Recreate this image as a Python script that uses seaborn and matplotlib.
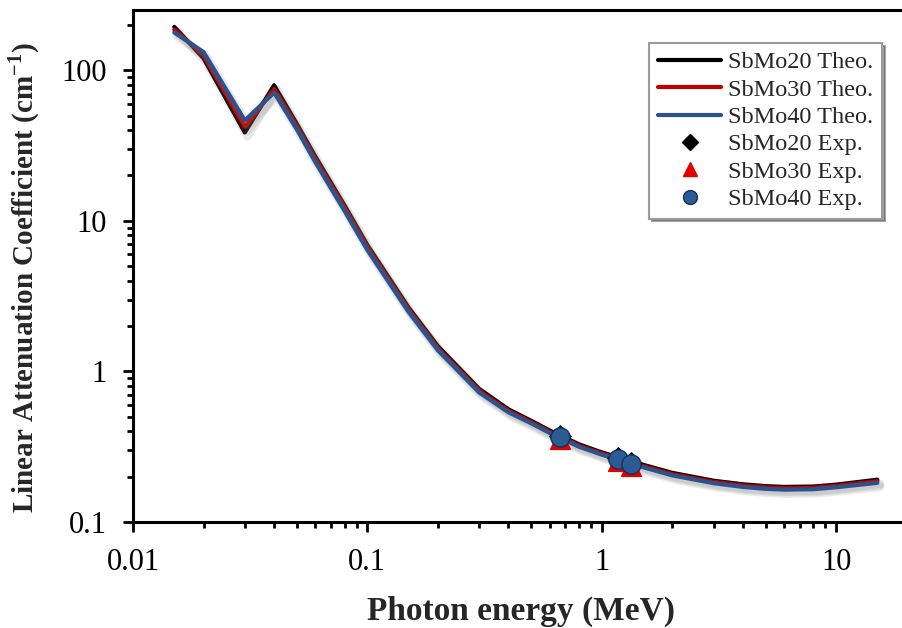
import numpy as np
import pandas as pd
import matplotlib
matplotlib.use("Agg")
import matplotlib.pyplot as plt
import matplotlib.patheffects as pe
from matplotlib.lines import Line2D
import seaborn as sns

# Photon energies (MeV) for the theoretical curves
energy = [0.015, 0.02, 0.03, 0.04, 0.05, 0.06, 0.08, 0.1, 0.15, 0.2, 0.3, 0.4,
          0.5, 0.6, 0.8, 1.0, 1.25, 1.5, 2.0, 3.0, 4.0, 5.0, 6.0, 8.0, 10.0, 15.0]

# Linear attenuation coefficients (cm^-1), theoretical
sbmo20_theo = [194, 120, 38.6, 79.4, 44.0, 26.7, 12.6, 6.9, 2.65, 1.47, 0.765, 0.56,
               0.47, 0.405, 0.328, 0.290, 0.262, 0.240, 0.212, 0.188, 0.178, 0.173,
               0.171, 0.172, 0.177, 0.191]
sbmo30_theo = [186, 126, 42.0, 75.0, 42.0, 25.6, 12.1, 6.65, 2.56, 1.42, 0.745, 0.548,
               0.462, 0.398, 0.322, 0.285, 0.257, 0.236, 0.208, 0.185, 0.175, 0.170,
               0.168, 0.169, 0.174, 0.187]
sbmo40_theo = [178, 132, 46.4, 71.0, 40.5, 24.5, 11.6, 6.4, 2.48, 1.38, 0.725, 0.535,
               0.452, 0.390, 0.316, 0.280, 0.252, 0.231, 0.204, 0.181, 0.171, 0.166,
               0.164, 0.165, 0.170, 0.182]

# Experimental points (Cs-137 and Co-60 lines)
exp_energy = [0.662, 1.173, 1.333]
sbmo20_exp = [0.372, 0.265, 0.245]
sbmo30_exp = [0.358, 0.256, 0.236]
sbmo40_exp = [0.369, 0.263, 0.243]

labels_theo = ["SbMo20 Theo.", "SbMo30 Theo.", "SbMo40 Theo."]
labels_exp = ["SbMo20 Exp.", "SbMo30 Exp.", "SbMo40 Exp."]
line_colors = ["#000000", "#C00000", "#2A5490"]

sns.set_theme(style="ticks")
plt.rcParams["font.family"] = ["Liberation Serif", "DejaVu Serif"]
plt.rcParams["mathtext.fontset"] = "custom"
plt.rcParams["mathtext.rm"] = "Liberation Serif"
plt.rcParams["mathtext.bf"] = "Liberation Serif:bold"

fig = plt.figure(figsize=(9.03, 6.28), dpi=100)
ax = fig.add_axes([133 / 903, (628 - 522) / 628, (903 - 133) / 903, (522 - 10) / 628])
ax.set_xscale("log")
ax.set_yscale("log")

theo = pd.DataFrame({"E": energy, "SbMo20": sbmo20_theo,
                     "SbMo30": sbmo30_theo, "SbMo40": sbmo40_theo})
shadow = [pe.SimpleLineShadow(offset=(2, -3), shadow_color="#909090", alpha=0.18,
                              linewidth=6), pe.Normal()]
for col, color in zip(["SbMo20", "SbMo30", "SbMo40"], line_colors):
    sns.lineplot(data=theo, x="E", y=col, ax=ax, color=color, linewidth=3.0,
                 legend=False)
    ax.lines[-1].set_path_effects(shadow)

expd = pd.DataFrame({"E": exp_energy, "SbMo20": sbmo20_exp,
                     "SbMo30": sbmo30_exp, "SbMo40": sbmo40_exp})
sns.scatterplot(data=expd, x="E", y="SbMo20", ax=ax, marker="D", s=120,
                color="black", edgecolor="black", zorder=5, legend=False)
sns.scatterplot(data=expd, x="E", y="SbMo30", ax=ax, marker="^", s=200,
                color="#E00000", edgecolor="#E00000", zorder=6, legend=False)
sns.scatterplot(data=expd, x="E", y="SbMo40", ax=ax, marker="o", s=190,
                color="#2B5A94", edgecolor="#17325A", linewidth=1.0, zorder=7,
                legend=False)

ax.set_xlim(0.01, 19.3)
ax.set_ylim(0.1, 251)
ax.set_xticks([0.01, 0.1, 1, 10])
ax.set_xticklabels(["0.01", "0.1", "1", "10"])
ax.set_yticks([0.1, 1, 10, 100])
ax.set_yticklabels(["0.1", "1", "10", "100"])

for side in ["left", "bottom", "top"]:
    ax.spines[side].set_linewidth(2.2)
    ax.spines[side].set_color("black")
ax.spines["right"].set_visible(False)

ax.tick_params(axis="both", which="major", length=7, width=2.0, direction="out",
               labelsize=22, pad=12, colors="black")
ax.tick_params(axis="both", which="minor", length=4.5, width=2.0, direction="out",
               colors="black")
ax.tick_params(top=False, right=False, which="both")

ax.set_xlabel("Photon energy (MeV)", fontsize=24, fontweight="bold")
ax.set_ylabel(r"Linear Attenuation Coefficient (cm$^{\mathbf{-1}}$)", fontsize=21,
              fontweight="bold")
ax.xaxis.set_label_coords(0.504, -0.145)
ax.yaxis.set_label_coords(-0.118, 0.478)

handles = [Line2D([], [], color=c, linewidth=3.0) for c in line_colors]
handles += [
    Line2D([], [], linestyle="none", marker="D", markersize=8, color="black"),
    Line2D([], [], linestyle="none", marker="^", markersize=10, color="#E00000"),
    Line2D([], [], linestyle="none", marker="o", markersize=10, color="#2B5A94",
           markeredgecolor="#17325A"),
]
leg = ax.legend(handles, labels_theo + labels_exp, loc="upper right",
                bbox_to_anchor=(0.973, 0.936), borderaxespad=0, fontsize=17.5,
                frameon=True, fancybox=False, shadow=True, handlelength=2.6,
                labelspacing=0.22, handletextpad=0.3, borderpad=0.35)
leg.get_frame().set_edgecolor("#9A9A9A")
leg.get_frame().set_linewidth(1.5)

fig.savefig("out.png", dpi=100, facecolor="white")
